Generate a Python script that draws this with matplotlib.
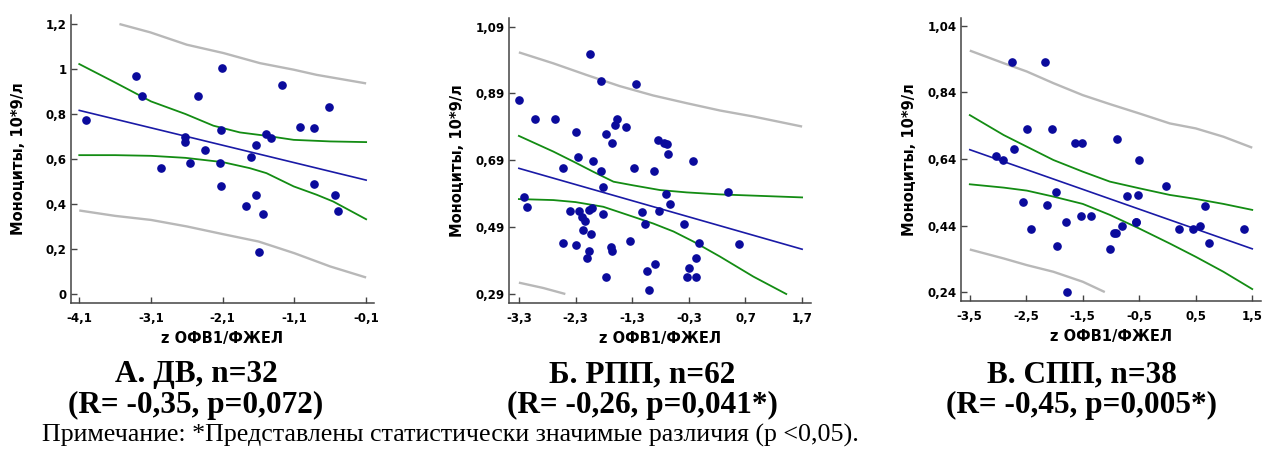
import numpy as np
import matplotlib.pyplot as plt

# ---- data ----

# A. DV, n=32
xA = [-4.01, -3.31, -3.23, -2.96, -2.62, -2.62, -2.56, -2.44, -2.34, -2.11, -2.13, -2.14, -2.13, -1.78,
      -1.71, -1.63, -1.63, -1.60, -1.54, -1.50, -1.43, -1.28, -1.02, -0.82, -0.82, -0.62, -0.53, -0.49]
yA = [0.773, 0.967, 0.878, 0.558, 0.696, 0.676, 0.58, 0.878, 0.638, 1.006, 0.727, 0.58, 0.479, 0.39,
      0.61, 0.66, 0.438, 0.188, 0.357, 0.711, 0.694, 0.93, 0.74, 0.736, 0.488, 0.829, 0.438, 0.369]
fitA_x = [-4.1, -0.1]
fitA_y = [0.816, 0.506]
ciA_up_x = [-4.1, -3.6, -3.1, -2.62, -2.23, -1.86, -1.49, -1.11, -0.6, -0.1]
ciA_up_y = [1.022, 0.940, 0.856, 0.800, 0.748, 0.718, 0.703, 0.685, 0.678, 0.675]
ciA_lo_x = [-4.1, -3.6, -3.1, -2.62, -2.1, -1.72, -1.49, -1.11, -0.79, -0.56, -0.1]
ciA_lo_y = [0.617, 0.617, 0.614, 0.605, 0.586, 0.559, 0.537, 0.478, 0.441, 0.411, 0.332]
prA_up_x = [-3.54, -3.11, -2.60, -2.09, -1.58, -1.11, -0.79, -0.1]
prA_up_y = [1.200, 1.163, 1.108, 1.071, 1.026, 0.997, 0.974, 0.936]
prA_lo_x = [-4.1, -3.6, -3.1, -2.6, -2.1, -1.6, -1.1, -0.6, -0.1]
prA_lo_y = [0.371, 0.347, 0.329, 0.300, 0.266, 0.233, 0.181, 0.122, 0.073]

# B. RPP, n=62
xB = [-3.29, -3.21, -3.15, -3.01, -2.66, -2.52, -2.53, -2.39, -2.29, -2.29, -2.25, -2.24, -2.19, -2.14, -2.16,
      -2.09, -2.06, -2.04, -2.06, -2.01, -2.02, -1.99, -1.85, -1.85, -1.82, -1.82, -1.77, -1.77, -1.66, -1.67,
      -1.66, -1.61, -1.57, -1.41, -1.33, -1.26, -1.24, -1.13, -1.08, -1.03, -1.00, -0.91, -0.89, -0.85, -0.82,
      -0.73, -0.69, -0.67, -0.71, -0.63, -0.38, -0.33, -0.29, -0.22, -0.18, -0.18, -0.12, 0.40, 0.59]
yB = [0.870, 0.579, 0.550, 0.814, 0.814, 0.668, 0.442, 0.537, 0.775, 0.438, 0.700, 0.538, 0.519, 0.508, 0.481,
      0.399, 0.419, 1.007, 0.541, 0.548, 0.470, 0.688, 0.928, 0.659, 0.610, 0.530, 0.769, 0.341, 0.741, 0.430,
      0.419, 0.797, 0.814, 0.789, 0.450, 0.668, 0.918, 0.536, 0.500, 0.359, 0.301, 0.659, 0.379, 0.750, 0.539,
      0.741, 0.739, 0.710, 0.590, 0.558, 0.500, 0.341, 0.369, 0.688, 0.341, 0.399, 0.442, 0.595, 0.439]
fitB_x = [-3.3, 1.7]
fitB_y = [0.666, 0.424]
ciB_up_x = [-3.3, -2.69, -2.3, -1.99, -1.63, -1.28, -0.81, -0.34, 0.25, 1.7]
ciB_up_y = [0.763, 0.716, 0.683, 0.656, 0.626, 0.615, 0.601, 0.594, 0.588, 0.579]
ciB_lo_x = [-3.3, -2.69, -2.3, -1.81, -1.28, -0.93, -0.57, -0.22, 0.25, 0.84, 1.42]
ciB_lo_y = [0.574, 0.571, 0.565, 0.551, 0.521, 0.501, 0.477, 0.447, 0.402, 0.342, 0.29]
prB_up_x = [-3.3, -2.69, -2.1, -1.52, -0.93, -0.34, 0.25, 0.84, 1.7]
prB_up_y = [1.013, 0.980, 0.945, 0.912, 0.884, 0.861, 0.839, 0.821, 0.791]
prB_lo_x = [-3.3, -2.87, -2.48]
prB_lo_y = [0.324, 0.308, 0.29]

# V. SPP, n=38
xC = [-3.03, -2.92, -2.76, -2.72, -2.56, -2.49, -2.42, -2.17, -2.14, -2.04, -1.97, -1.95, -1.80, -1.78,
      -1.63, -1.54, -1.51, -1.36, -1.01, -0.94, -0.92, -0.89, -0.81, -0.72, -0.56, -0.55, -0.52, -0.50,
      -0.02, 0.21, 0.45, 0.58, 0.66, 0.74, 1.36]
yC = [0.649, 0.637, 0.933, 0.669, 0.510, 0.730, 0.430, 0.933, 0.501, 0.730, 0.540, 0.379, 0.450, 0.239,
      0.688, 0.470, 0.688, 0.470, 0.368, 0.418, 0.418, 0.699, 0.438, 0.529, 0.450, 0.450, 0.531, 0.638,
      0.559, 0.430, 0.430, 0.438, 0.500, 0.388, 0.430]
fitC_x = [-3.5, 1.5]
fitC_y = [0.668, 0.370]
bandC_x = [-3.5, -2.90, -2.49, -2.02, -1.50, -1.02, -0.50, 0.04, 0.50, 0.99, 1.5]
ciC_up_y = [0.772, 0.712, 0.677, 0.637, 0.602, 0.572, 0.552, 0.532, 0.520, 0.505, 0.487]
ciC_lo_y = [0.564, 0.554, 0.545, 0.527, 0.505, 0.472, 0.431, 0.386, 0.346, 0.301, 0.249]
prC_up_y = [0.966, 0.928, 0.903, 0.868, 0.832, 0.805, 0.777, 0.747, 0.732, 0.707, 0.674]
prC_lo_x = [-3.5, -2.90, -2.49, -2.02, -1.50, -1.11]
prC_lo_y = [0.368, 0.341, 0.321, 0.301, 0.271, 0.24]

xticksA = [-4.1, -3.1, -2.1, -1.1, -0.1]
yticksA = [0, 0.2, 0.4, 0.6, 0.8, 1.0, 1.2]
xticksB = [-3.3, -2.3, -1.3, -0.3, 0.7, 1.7]
yticksB = [0.29, 0.49, 0.69, 0.89, 1.09]
xticksC = [-3.5, -2.5, -1.5, -0.5, 0.5, 1.5]
yticksC = [0.24, 0.44, 0.64, 0.84, 1.04]

titles1 = ['А. ДВ, n=32', 'Б. РПП, n=62', 'В. СПП, n=38']
titles2 = ['(R= -0,35, p=0,072)', '(R= -0,26, p=0,041*)', '(R= -0,45, p=0,005*)']
note = 'Примечание: *Представлены статистически значимые различия (р <0,05).'

# ---- drawing ----

col_pt = '#0a0a9c'
col_fit = '#1a1aa6'
col_ci = '#138c13'
col_pr = '#b8b8b8'

sans = ['DejaVu Sans']
serif = ['Liberation Serif', 'DejaVu Serif']


def fmt(v):
    s = ('%.2f' % v).rstrip('0').rstrip('.')
    return s.replace('.', ',')


def panel(rect, x, y, fit, ci_up, ci_lo, pr_up, pr_lo, xt, yt, xlim, ylim):
    ax = fig.add_axes(rect)
    ax.plot(pr_up[0], pr_up[1], color=col_pr, lw=1.7, solid_capstyle='butt')
    ax.plot(pr_lo[0], pr_lo[1], color=col_pr, lw=1.7, solid_capstyle='butt')
    ax.plot(ci_up[0], ci_up[1], color=col_ci, lw=1.3)
    ax.plot(ci_lo[0], ci_lo[1], color=col_ci, lw=1.3)
    ax.plot(fit[0], fit[1], color=col_fit, lw=1.2)
    ax.plot(x, y, 'o', color=col_pt, ms=5.2, mec=col_pt, zorder=5)
    ax.set_xlim(xlim)
    ax.set_ylim(ylim)
    ax.set_xticks(xt)
    ax.set_xticklabels([fmt(v) for v in xt])
    ax.set_yticks(yt)
    ax.set_yticklabels([fmt(v) for v in yt])
    for sp in ['top', 'right']:
        ax.spines[sp].set_visible(False)
    for sp in ['left', 'bottom']:
        ax.spines[sp].set_color('#444444')
        ax.spines[sp].set_linewidth(1.1)
    ax.tick_params(direction='in', length=4, width=1, color='#444444', labelsize=8.5)
    ax.tick_params(axis='x', pad=7)
    ax.tick_params(axis='y', pad=3)
    for lab in ax.get_xticklabels() + ax.get_yticklabels():
        lab.set_family(sans)
        lab.set_fontweight('bold')
    ax.set_xlabel('z ОФВ1/ФЖЕЛ', family=sans, fontweight='bold', fontsize=10.5)
    ax.set_ylabel('Моноциты, 10*9/л', family=sans, fontweight='bold', fontsize=10.5)
    ax.xaxis.set_label_coords(0.5, -0.1)
    ax.yaxis.set_label_coords(-0.147, 0.5)
    return ax


fig = plt.figure(figsize=(12.64, 4.61), dpi=100)

panel([0.0559, 0.3434, 0.2400, 0.6240], xA, yA, (fitA_x, fitA_y),
      (ciA_up_x, ciA_up_y), (ciA_lo_x, ciA_lo_y), (prA_up_x, prA_up_y), (prA_lo_x, prA_lo_y),
      xticksA, yticksA, (-4.22, 0.01), (-0.039, 1.24))
panel([0.4029, 0.3434, 0.2384, 0.6170], xB, yB, (fitB_x, fitB_y),
      (ciB_up_x, ciB_up_y), (ciB_lo_x, ciB_lo_y), (prB_up_x, prB_up_y), (prB_lo_x, prB_lo_y),
      xticksB, yticksB, (-3.47, 1.85), (0.264, 1.115))
panel([0.7601, 0.3477, 0.2373, 0.6126], xC, yC, (fitC_x, fitC_y),
      (bandC_x, ciC_up_y), (bandC_x, ciC_lo_y), (bandC_x, prC_up_y), (prC_lo_x, prC_lo_y),
      xticksC, yticksC, (-3.66, 1.65), (0.214, 1.063))

title_x = [196 / 1264, 642 / 1264, 1082 / 1264]
for i in range(3):
    fig.text(title_x[i], 1 - 382 / 461, titles1[i], ha='center', va='baseline',
             family=serif, fontweight='bold', fontsize=22.5)
    fig.text(title_x[i], 1 - 413 / 461, titles2[i], ha='center', va='baseline',
             family=serif, fontweight='bold', fontsize=22.5)
fig.text(42 / 1264, 1 - 442 / 461, note, ha='left', va='baseline', family=serif, fontsize=18.7)

fig.savefig('out.png', dpi=100)
